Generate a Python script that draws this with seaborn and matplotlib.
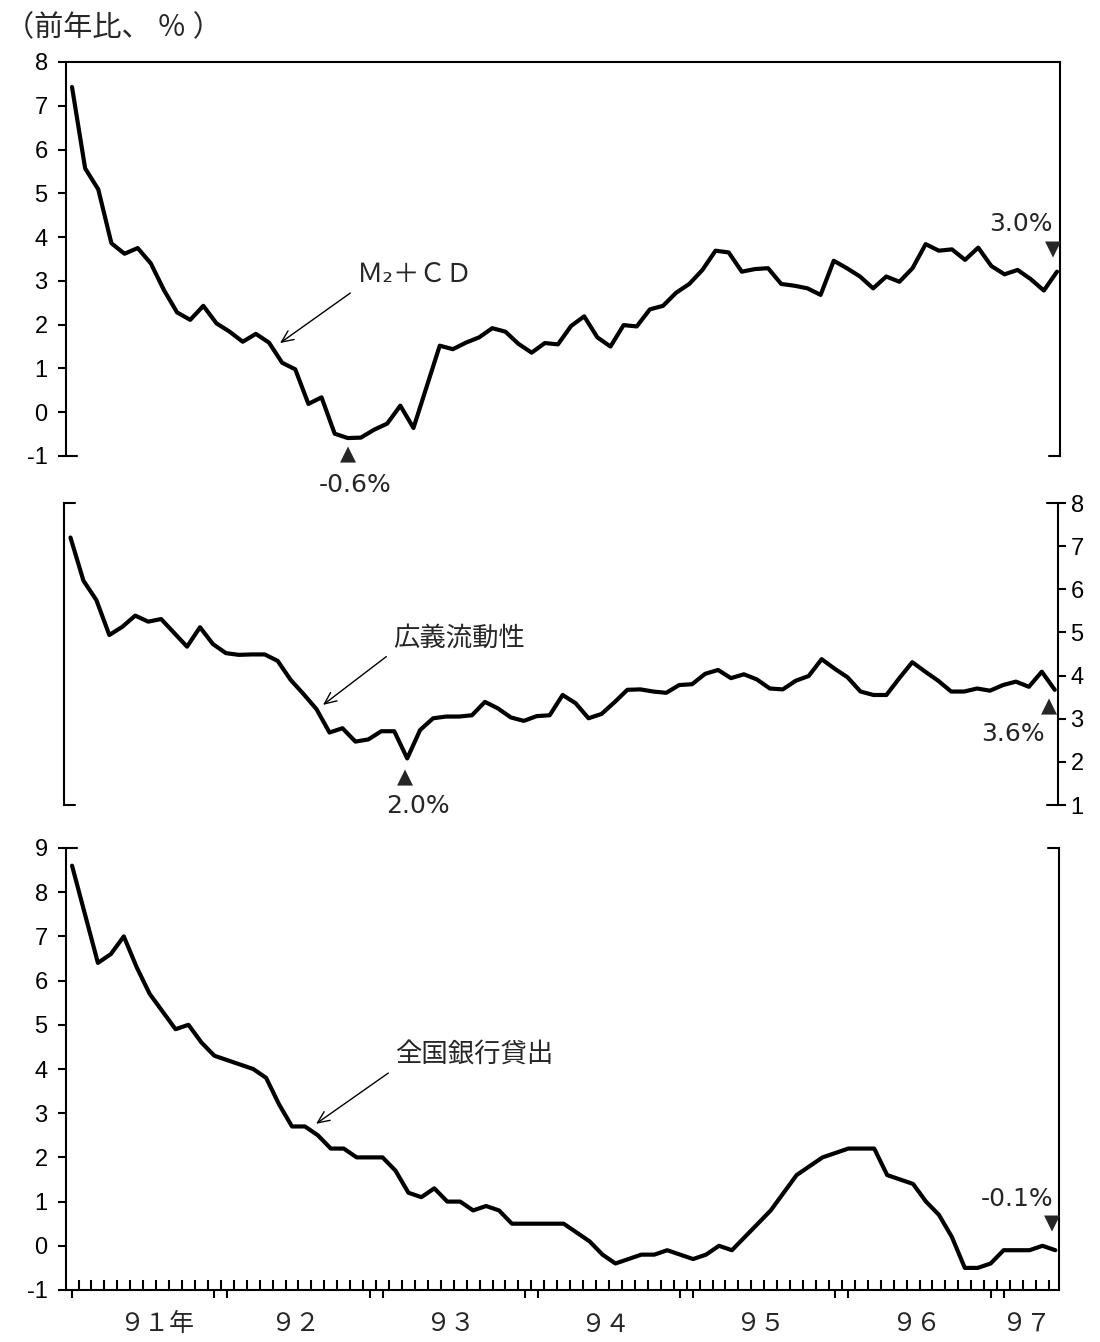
import numpy as np
import pandas as pd
import matplotlib
matplotlib.use("Agg")
import matplotlib.pyplot as plt
import matplotlib.transforms as mtransforms
import seaborn as sns

# 前年比 (%), monthly from Jan 1991
m2cd = [7.43, 5.57, 5.09, 3.86, 3.62, 3.75, 3.40, 2.79, 2.28, 2.11, 2.43, 2.03,
        1.84, 1.61, 1.79, 1.59, 1.13, 0.98, 0.19, 0.34, -0.49, -0.59, -0.58, -0.40,
        -0.26, 0.15, -0.36, 0.58, 1.52, 1.44, 1.59, 1.71, 1.92, 1.84, 1.56, 1.36,
        1.58, 1.55, 1.97, 2.19, 1.71, 1.50, 1.99, 1.96, 2.35, 2.43, 2.73, 2.93,
        3.25, 3.69, 3.65, 3.21, 3.27, 3.29, 2.93, 2.89, 2.83, 2.68, 3.46, 3.29,
        3.10, 2.83, 3.10, 2.98, 3.29, 3.84, 3.69, 3.72, 3.48, 3.76, 3.34, 3.15,
        3.25, 3.04, 2.78, 3.21]
kogi = [7.20, 6.20, 5.75, 4.94, 5.13, 5.39, 5.25, 5.31, 4.99, 4.67, 5.12, 4.73,
        4.52, 4.48, 4.49, 4.49, 4.34, 3.90, 3.57, 3.22, 2.68, 2.78, 2.47, 2.52,
        2.71, 2.71, 2.08, 2.74, 3.01, 3.05, 3.05, 3.08, 3.39, 3.24, 3.03, 2.95,
        3.06, 3.08, 3.55, 3.36, 3.01, 3.11, 3.38, 3.67, 3.68, 3.63, 3.60, 3.78,
        3.80, 4.04, 4.13, 3.94, 4.03, 3.91, 3.70, 3.68, 3.88, 3.99, 4.38, 4.16,
        3.96, 3.63, 3.55, 3.55, 3.94, 4.31, 4.09, 3.88, 3.63, 3.63, 3.70, 3.65,
        3.78, 3.86, 3.74, 4.09, 3.67]
loans = [8.6, 7.5, 6.4, 6.6, 7.0, 6.3, 5.7, 5.3, 4.9, 5.0, 4.6, 4.3,
         4.2, 4.1, 4.0, 3.8, 3.2, 2.7, 2.7, 2.5, 2.2, 2.2, 2.0, 2.0,
         2.0, 1.7, 1.2, 1.1, 1.3, 1.0, 1.0, 0.8, 0.9, 0.8, 0.5, 0.5,
         0.5, 0.5, 0.5, 0.3, 0.1, -0.2, -0.4, -0.3, -0.2, -0.2, -0.1, -0.2,
         -0.3, -0.2, 0.0, -0.1, 0.2, 0.5, 0.8, 1.2, 1.6, 1.8, 2.0, 2.1,
         2.2, 2.2, 2.2, 1.6, 1.5, 1.4, 1.0, 0.7, 0.2, -0.5, -0.5, -0.4,
         -0.1, -0.1, -0.1, 0.0, -0.1]
year_labels = ["９１年", "９２", "９３", "９４", "９５", "９６", "９７"]

sns.set_theme(style="white")
plt.rcParams["font.family"] = ["Noto Sans CJK JP", "DejaVu Sans"]
plt.rcParams["axes.unicode_minus"] = False
plt.rcParams["axes.edgecolor"] = "black"
plt.rcParams["axes.linewidth"] = 1.5

fig = plt.figure(figsize=(11, 13.42), dpi=100)


def px_axes(left, top, right, bottom):
    return fig.add_axes([left / 1100, 1 - bottom / 1342,
                         (right - left) / 1100, (bottom - top) / 1342])


def draw_line(ax, values):
    df = pd.DataFrame({"t": np.arange(len(values)), "v": values})
    sns.lineplot(data=df, x="t", y="v", ax=ax, color="black", linewidth=3)
    ax.set_xlabel("")
    ax.set_ylabel("")


def cap(ax, y, side):
    w = 11 / (ax.get_position().width * 1100)
    if side == "left":
        ax.axhline(y, xmin=0, xmax=w, color="black", lw=1.5, clip_on=False)
    else:
        ax.axhline(y, xmin=1 - w, xmax=1, color="black", lw=1.5, clip_on=False)


def mark(ax, i, v, tri, dx, dy, label, tx, ty, ha):
    ax.annotate(tri, xy=(i, v), xytext=(dx, dy), textcoords="offset points",
                ha="center", va="center", fontsize=15, family="DejaVu Sans")
    ax.annotate(label, xy=(i, v), xytext=(tx, ty), textcoords="offset points",
                ha=ha, va="center", fontsize=18, family="DejaVu Sans")


def arrow_label(ax, text, tip, pos):
    ax.annotate(text, xy=tip, xytext=pos, ha="left", va="center", fontsize=19,
                arrowprops=dict(arrowstyle="->,head_length=0.45,head_width=0.2",
                                color="black", lw=1, relpos=(0, 0),
                                shrinkA=3, shrinkB=0))


tick_kw = dict(labelsize=17, labelfontfamily="Liberation Sans", width=1.5,
               length=6, color="black", labelcolor="black")

# ---- top panel: M2+CD
ax1 = px_axes(65.7, 62, 1059.5, 456)
draw_line(ax1, m2cd)
ax1.set_xlim(-0.48, 75.19)
ax1.set_ylim(-1, 8)
ax1.set_yticks(range(-1, 9))
ax1.tick_params(axis="y", direction="out", left=True, pad=7, **tick_kw)
ax1.tick_params(axis="x", bottom=False, labelbottom=False)
ax1.spines["bottom"].set_visible(False)
cap(ax1, -1, "left")
cap(ax1, -1, "right")
i_min = int(np.argmin(m2cd))
mark(ax1, i_min, m2cd[i_min], "▲", 0, -12, "-0.6%", 5, -34, "center")
mark(ax1, len(m2cd) - 1, m2cd[-1], "▼", -3, 16, "3.0%", -3, 34, "right")
arrow_label(ax1, "Ｍ₂＋ＣＤ", (15.84, 1.58), (21.7, 3.14))
fig.text(5 / 1100, 1 - 28 / 1342, "（前年比、 ％ ）", fontsize=21, ha="left", va="center")

# ---- middle panel: 広義流動性
ax2 = px_axes(64, 503, 1058, 805)
draw_line(ax2, kogi)
ax2.set_xlim(-0.5, 76.25)
ax2.set_ylim(1, 8)
ax2.set_yticks(range(1, 9))
ax2.yaxis.tick_right()
ax2.tick_params(axis="y", direction="out", right=True, left=False, pad=3, **tick_kw)
ax2.tick_params(axis="x", bottom=False, labelbottom=False)
ax2.spines["top"].set_visible(False)
ax2.spines["bottom"].set_visible(False)
for y in (1, 8):
    cap(ax2, y, "left")
    cap(ax2, y, "right")
i_min = int(np.argmin(kogi))
mark(ax2, i_min, kogi[i_min], "▲", -1.5, -13.5, "2.0%", 8, -34, "center")
mark(ax2, len(kogi) - 1, kogi[-1], "▲", -4, -12, "3.6%", -7, -32, "right")
arrow_label(ax2, "広義流動性", (19.5, 3.32), (24.9, 4.87))

# ---- bottom panel: 全国銀行貸出
ax3 = px_axes(65.7, 848, 1059, 1290)
draw_line(ax3, loans)
n = len(loans)
ax3.set_xlim(-0.49, 76.28)
ax3.set_ylim(-1, 9)
ax3.set_yticks(range(-1, 10))
ax3.tick_params(axis="y", direction="out", left=True, pad=7, **tick_kw)
ax3.spines["top"].set_visible(False)
cap(ax3, 9, "left")
cap(ax3, 9, "right")

idx = np.arange(n)
boundaries = [0] + [b + d for b in range(12, n, 12) for d in (-1, 0)]
ax3.set_xticks(boundaries)
ax3.set_xticklabels([])
ax3.set_xticks(idx[:-1] + 0.5, minor=True)
ax3.tick_params(axis="x", which="major", direction="out", bottom=True,
                length=6, width=1.5, color="black")
ax3.tick_params(axis="x", which="minor", direction="in", bottom=True,
                length=7, width=1.5, color="black")
trans = mtransforms.blended_transform_factory(ax3.transData, ax3.transAxes)
for yr, lab in enumerate(year_labels):
    c = idx[idx // 12 == yr].mean() + (1.0 if lab.endswith("年") else -0.3)
    ax3.text(c, -0.078, lab, transform=trans, ha="center", va="center", fontsize=18)

mark(ax3, n - 1, loans[-1], "▼", -2.5, 19.5, "-0.1%", -1.5, 37, "right")
arrow_label(ax3, "全国銀行貸出", (18.86, 2.76), (24.96, 4.32))

fig.savefig("out.png", dpi=100)
